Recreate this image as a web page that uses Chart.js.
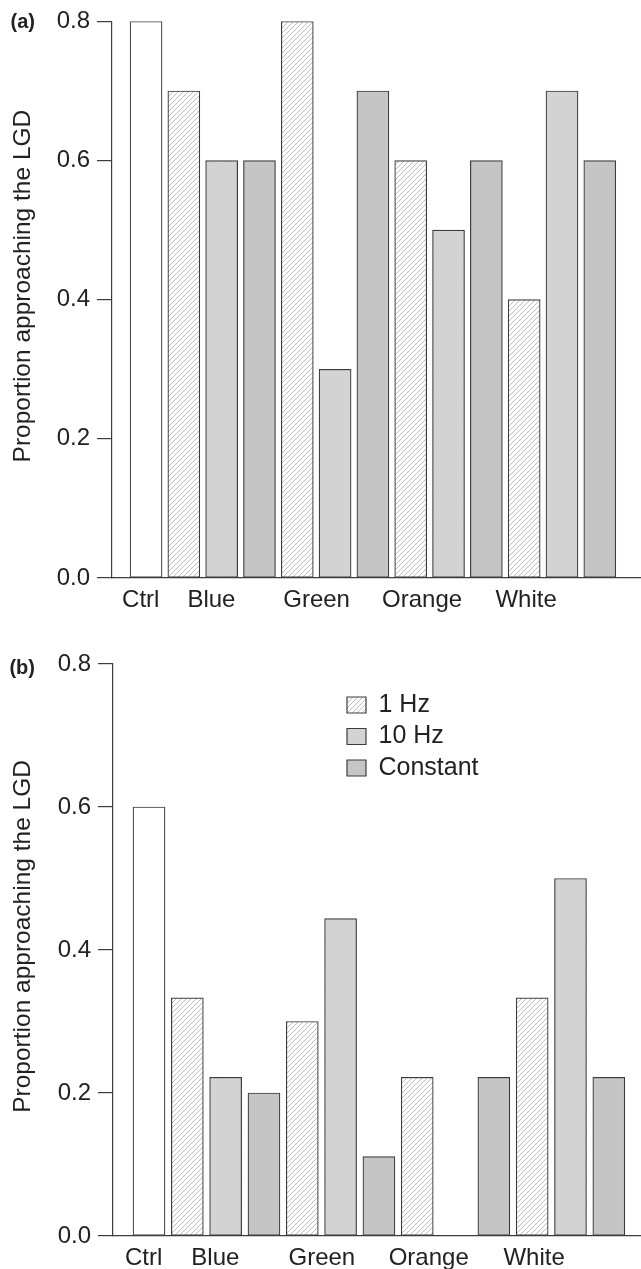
<!DOCTYPE html>
<html>
<head>
<meta charset="utf-8">
<script src="https://cdn.jsdelivr.net/npm/chart.js@4.4.1/dist/chart.umd.min.js"></script>
<style>
  body { margin: 0; background: #fff; }
  #wrap { position: relative; width: 641px; height: 1269px; overflow: hidden; }
  canvas { position: absolute; left: 0; }
  #ca { top: 0; }
  #cb { top: 630px; }
  .tag { position: absolute; left: 0; width: 35px; text-align: right; font: bold 20px 'Liberation Sans', Arial, sans-serif; line-height: 20px; color: #222; }
</style>
</head>
<body>
<div id="wrap">
  <canvas id="ca" width="641" height="630"></canvas>
  <canvas id="cb" width="641" height="639"></canvas>
  <div class="tag" style="top:11px">(a)</div>
  <div class="tag" style="top:657px">(b)</div>
</div>
<script>
// data
const groups = ['Blue', 'Green', 'Orange', 'White'];
const xLabels = ['Ctrl', 'Blue', 'Green', 'Orange', 'White'];
const yTicks = [0, 0.2, 0.4, 0.6, 0.8];

// panel (a)
const ctrlA = 0.8;
const hz1A = [0.7, 0.8, 0.6, 0.4];
const hz10A = [0.6, 0.3, 0.5, 0.7];
const constA = [0.6, 0.7, 0.6, 0.6];

// panel (b)
const ctrlB = 0.6;
const hz1B = [0.333, 0.3, 0.222, 0.333];
const hz10B = [0.222, 0.444, 0, 0.5];
const constB = [0.2, 0.111, 0.222, 0.222];

// where the group names sit on the x axis (in bar slots)
const tickPos = [-0.14, 1.73, 4.51, 7.3, 10.05];

Chart.defaults.font.family = "'Liberation Sans', Arial, sans-serif";
Chart.defaults.color = '#222';

function hatch(bg, line, step) {
  const c = document.createElement('canvas');
  c.width = c.height = step;
  const g = c.getContext('2d');
  g.fillStyle = bg;
  g.fillRect(0, 0, step, step);
  g.strokeStyle = line;
  g.lineWidth = 1;
  g.beginPath();
  g.moveTo(0, step); g.lineTo(step, 0);
  g.moveTo(-1, 1); g.lineTo(1, -1);
  g.moveTo(step - 1, step + 1); g.lineTo(step + 1, step - 1);
  g.stroke();
  return g.createPattern(c, 'repeat');
}

const fill1 = hatch('#ffffff', '#bcbcbc', 5);
const fill10 = hatch('#d6d6d6', '#cdcdcd', 3);
const fillConst = '#c5c5c5';
const edge = '#3c3c3c';

// put the legend where the figure has it
const legendSpot = {
  id: 'legendSpot',
  afterLayout(chart, args, opts) {
    const lg = chart.legend;
    if (!lg || opts.left == null) return;
    lg.left = opts.left;
    lg.top = opts.top;
    lg.right = chart.width;
    lg.bottom = chart.chartArea.bottom;
  }
};

function series(vals, slot) {
  return vals.map((v, i) => ({ x: 1 + i * 3 + slot, y: v }));
}

function makeChart(id, ctrl, hz1, hz10, cons, o) {
  const bar = { grouped: false, barThickness: 32, borderColor: edge, borderWidth: 1.2, borderSkipped: false };
  return new Chart(document.getElementById(id), {
    type: 'bar',
    data: {
      datasets: [
        Object.assign({ label: 'Ctrl', data: [{ x: 0, y: ctrl }], backgroundColor: '#ffffff' }, bar),
        Object.assign({ label: '1 Hz', data: series(hz1, 0), backgroundColor: fill1 }, bar),
        Object.assign({ label: '10 Hz', data: series(hz10, 1), backgroundColor: fill10 }, bar),
        Object.assign({ label: 'Constant', data: series(cons, 2), backgroundColor: fillConst }, bar)
      ]
    },
    plugins: [legendSpot],
    options: {
      responsive: false,
      animation: false,
      layout: { padding: { top: o.top, left: 0, right: 0, bottom: 0 } },
      plugins: {
        tooltip: { enabled: false },
        legend: {
          display: o.legend,
          position: 'chartArea',
          align: 'start',
          labels: {
            boxWidth: 19, boxHeight: 16, padding: 6.5,
            font: { size: 25 }, color: '#222',
            filter: item => item.datasetIndex > 0
          }
        },
        legendSpot: o.legend ? { left: 340.5, top: 56 } : {}
      },
      scales: {
        x: {
          type: 'linear',
          offset: false,
          min: o.xmin, max: o.xmax,
          grid: { display: false, drawTicks: false, offset: false },
          border: { display: true, color: edge, width: 1.2 },
          afterBuildTicks: s => { s.ticks = tickPos.map(v => ({ value: v })); },
          afterFit: s => { s.height = o.xh; },
          ticks: {
            autoSkip: false, maxRotation: 0, padding: 8,
            font: { size: 24 }, color: '#222',
            callback: (v, i) => xLabels[i]
          }
        },
        y: {
          min: 0, max: 0.8,
          grid: { drawOnChartArea: false, drawTicks: true, tickLength: 15, color: edge, lineWidth: 1.2 },
          border: { display: true, color: edge, width: 1.2 },
          afterBuildTicks: s => { s.ticks = yTicks.map(v => ({ value: v })); },
          afterFit: s => { s.width = o.yw; },
          ticks: {
            padding: 7, font: { size: 24 }, color: '#222',
            callback: v => v.toFixed(1)
          },
          title: {
            display: true,
            // leading spaces nudge the label up a little, as in the figure
            text: '    Proportion approaching the LGD',
            font: { size: 24.5 }, color: '#222',
            padding: { top: 9, bottom: 0 }
          }
        }
      }
    }
  });
}

makeChart('ca', ctrlA, hz1A, hz10A, constA, { top: 18, xh: 52, yw: 112, xmin: -0.9, xmax: 13.09, legend: false });
makeChart('cb', ctrlB, hz1B, hz10B, constB, { top: 34, xh: 33, yw: 113, xmin: -0.94, xmax: 12.84, legend: true });
</script>
</body>
</html>
